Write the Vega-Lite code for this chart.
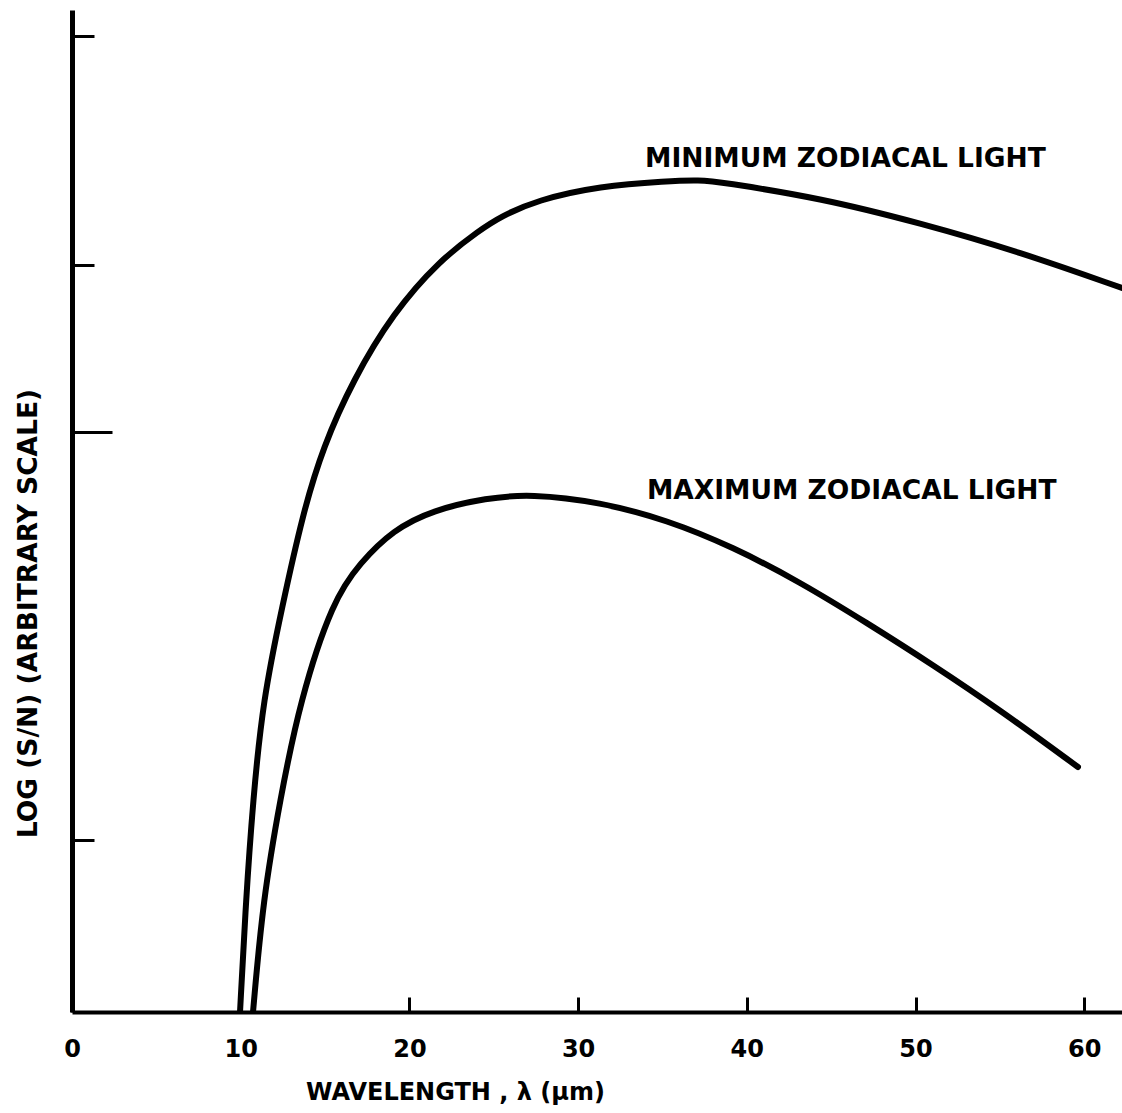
{
  "$schema": "https://vega.github.io/schema/vega-lite/v6.json",
  "width": 1050,
  "height": 1002,
  "autosize": {"type": "none"},
  "padding": {"left": 72, "top": 10, "right": 0, "bottom": 101},
  "background": "white",
  "config": {
    "view": {"stroke": null},
    "axis": {"grid": false, "domainColor": "black", "tickColor": "black", "labelColor": "black", "titleColor": "black"}
  },
  "datasets": {
    "curves": [
      {"series": "min", "wavelength": 9.96, "value": 0},
      {"series": "min", "wavelength": 10.31, "value": 1.12},
      {"series": "min", "wavelength": 10.73, "value": 2.12},
      {"series": "min", "wavelength": 11.32, "value": 3.12},
      {"series": "min", "wavelength": 12.45, "value": 4.05},
      {"series": "min", "wavelength": 13.69, "value": 4.99},
      {"series": "min", "wavelength": 14.88, "value": 5.65},
      {"series": "min", "wavelength": 16.66, "value": 6.32},
      {"series": "min", "wavelength": 19.03, "value": 6.99},
      {"series": "min", "wavelength": 21.81, "value": 7.52},
      {"series": "min", "wavelength": 24.18, "value": 7.82},
      {"series": "min", "wavelength": 25.37, "value": 7.95},
      {"series": "min", "wavelength": 27.56, "value": 8.12},
      {"series": "min", "wavelength": 31.3, "value": 8.26},
      {"series": "min", "wavelength": 35.27, "value": 8.31},
      {"series": "min", "wavelength": 37.23, "value": 8.32},
      {"series": "min", "wavelength": 38.41, "value": 8.3},
      {"series": "min", "wavelength": 44.34, "value": 8.14},
      {"series": "min", "wavelength": 50.27, "value": 7.89},
      {"series": "min", "wavelength": 56.19, "value": 7.6},
      {"series": "min", "wavelength": 62.24, "value": 7.24},
      {"series": "max", "wavelength": 10.73, "value": 0},
      {"series": "max", "wavelength": 11.32, "value": 1.12},
      {"series": "max", "wavelength": 12.33, "value": 2.12},
      {"series": "max", "wavelength": 13.52, "value": 3.12},
      {"series": "max", "wavelength": 15.47, "value": 4.12},
      {"series": "max", "wavelength": 17.07, "value": 4.49},
      {"series": "max", "wavelength": 19.03, "value": 4.82},
      {"series": "max", "wavelength": 21.4, "value": 5.02},
      {"series": "max", "wavelength": 24.6, "value": 5.14},
      {"series": "max", "wavelength": 27.15, "value": 5.18},
      {"series": "max", "wavelength": 31.3, "value": 5.1},
      {"series": "max", "wavelength": 35.27, "value": 4.92},
      {"series": "max", "wavelength": 39.18, "value": 4.65},
      {"series": "max", "wavelength": 43.15, "value": 4.3},
      {"series": "max", "wavelength": 47.13, "value": 3.89},
      {"series": "max", "wavelength": 51.04, "value": 3.47},
      {"series": "max", "wavelength": 55.01, "value": 3.02},
      {"series": "max", "wavelength": 59.63, "value": 2.45}
    ],
    "labels": [
      {"label": "MINIMUM ZODIACAL LIGHT", "wavelength": 33.97, "value": 8.53},
      {"label": "MAXIMUM ZODIACAL LIGHT", "wavelength": 34.08, "value": 5.21}
    ]
  },
  "layer": [
    {
      "data": {"name": "curves"},
      "mark": {"type": "line", "interpolate": "basis", "strokeWidth": 6, "color": "black", "strokeCap": "round", "clip": true},
      "encoding": {
        "x": {
          "field": "wavelength", "type": "quantitative",
          "scale": {"domain": [0, 62.24], "nice": false, "zero": false},
          "axis": {
            "values": [0, 10, 20, 30, 40, 50, 60],
            "format": "d",
            "title": "WAVELENGTH , λ (μm)",
            "tickSize": -15,
            "tickWidth": 3,
            "domainWidth": 4,
            "labelFont": "DejaVu Sans",
            "labelFontWeight": "bold",
            "labelFontSize": 24,
            "labelPadding": 40,
            "labelFlush": false,
            "titleFont": "DejaVu Sans",
            "titleFontWeight": "bold",
            "titleFontSize": 24,
            "titleX": 383,
            "titleY": 80,
            "titleBaseline": "middle",
            "titleAlign": "center"
          }
        },
        "y": {
          "field": "value", "type": "quantitative",
          "scale": {"domain": [0, 10.02], "nice": false, "zero": false},
          "axis": {
            "values": [1.72, 5.8, 7.47, 9.76],
            "labels": false,
            "tickSize": {"condition": {"test": "datum.value === 5.8", "value": -40}, "value": -22},
            "tickWidth": 3,
            "domainWidth": 5,
            "title": "LOG (S/N) (ARBITRARY SCALE)",
            "titleFont": "DejaVu Sans",
            "titleFontWeight": "bold",
            "titleFontSize": 26.5,
            "titleAngle": 270,
            "titleX": -44,
            "titleY": 603,
            "titleBaseline": "middle",
            "titleAlign": "center"
          }
        },
        "detail": {"field": "series", "type": "nominal"}
      }
    },
    {
      "data": {"name": "labels"},
      "mark": {"type": "text", "align": "left", "baseline": "middle", "font": "DejaVu Sans", "fontWeight": "bold", "fontSize": 26.5, "color": "black"},
      "encoding": {
        "x": {"field": "wavelength", "type": "quantitative"},
        "y": {"field": "value", "type": "quantitative"},
        "text": {"field": "label", "type": "nominal"}
      }
    }
  ]
}
